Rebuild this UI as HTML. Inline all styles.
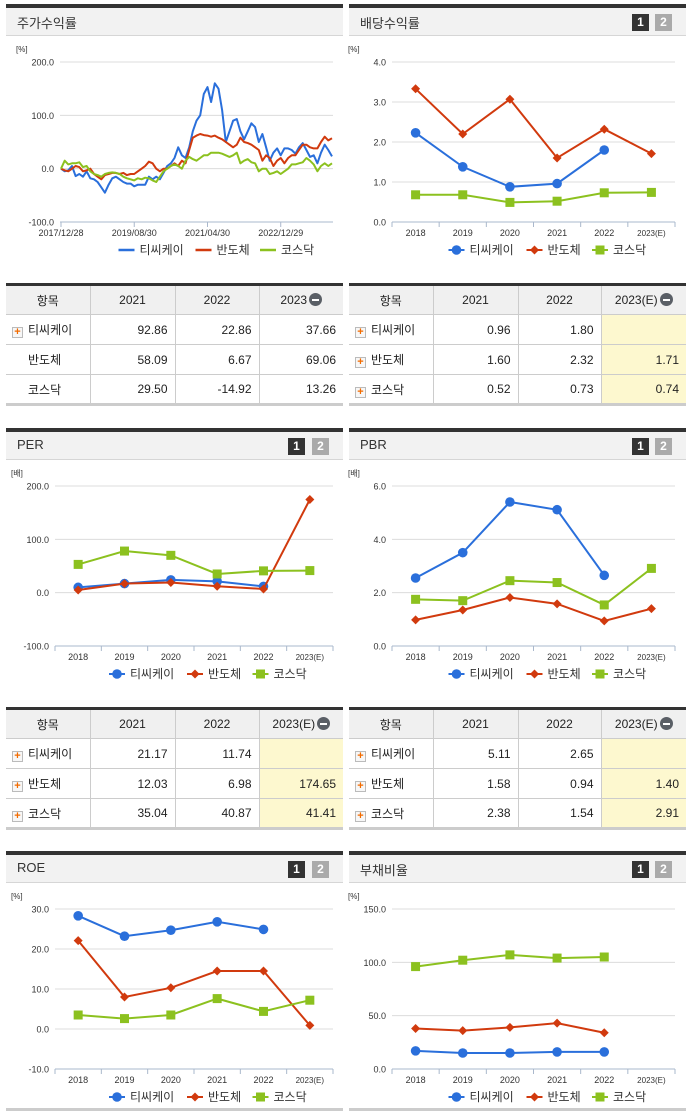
<!DOCTYPE html>
<html><head><meta charset="utf-8">
<style>
*{box-sizing:border-box;margin:0;padding:0}
body{width:691px;height:1115px;background:#fff;position:relative;overflow:hidden;font-family:"Liberation Sans","Noto Sans CJK KR",sans-serif;color:#222}
.hdr{position:absolute;height:32px;background:#f2f2f2;border-top:4px solid #333;border-bottom:1px solid #d6d6d6}
.hdr .t{position:absolute;left:11px;top:5px;font-size:13px;color:#333}
.b{position:absolute;top:6px;width:17px;height:17px;font:bold 12px "Liberation Sans",sans-serif;color:#fff;text-align:center;line-height:17px}
.b1{background:#333}.b2{background:#aaa}
svg{position:absolute;left:0;top:0}
table{position:absolute;border-collapse:collapse;font-size:12px;table-layout:fixed;border-top:3px solid #333;border-bottom:3px solid #ccc}
td,th{border:1px solid #ccc;height:30px;font-weight:normal}
table tr td:first-child,table tr th:first-child{border-left:none}
table tr td:last-child,table tr th:last-child{border-right:none}
th{background:#f0f0f0;height:30px;text-align:center}
td{text-align:right;padding-right:7px}
td.l{text-align:left;padding-left:6px}
td.y{background:#fdf8cf}
.pl{display:inline-block;width:11px;height:11px;border:1px solid #bbb;background:#f7f7f7;color:#f26b00;font-size:11px;line-height:9px;text-align:center;font-weight:bold;vertical-align:-1px;margin-right:5px}
.sp{display:inline-block;width:16px}
.mn{display:inline-block;width:13px;height:13px;border-radius:50%;background:#5a5f66;vertical-align:-2px;position:relative;margin-left:2px}
.mn:after{content:"";position:absolute;left:3px;top:6px;width:7px;height:2px;background:#fff}
</style></head><body>
<div class="hdr" style="left:6px;top:4px;width:337px"><span class="t">주가수익률</span></div>
<div class="hdr" style="left:349px;top:4px;width:337px"><span class="t">배당수익률</span><span class="b b1" style="left:283px">1</span><span class="b b2" style="left:306px">2</span></div>
<div class="hdr" style="left:6px;top:428px;width:337px"><span class="t">PER</span><span class="b b1" style="left:282px">1</span><span class="b b2" style="left:306px">2</span></div>
<div class="hdr" style="left:349px;top:428px;width:337px"><span class="t">PBR</span><span class="b b1" style="left:283px">1</span><span class="b b2" style="left:306px">2</span></div>
<div class="hdr" style="left:6px;top:851px;width:337px"><span class="t">ROE</span><span class="b b1" style="left:282px">1</span><span class="b b2" style="left:306px">2</span></div>
<div class="hdr" style="left:349px;top:851px;width:337px"><span class="t">부채비율</span><span class="b b1" style="left:283px">1</span><span class="b b2" style="left:306px">2</span></div>

<table style="left:6px;top:283px;width:337px">
<colgroup><col style="width:84px"><col style="width:85px"><col style="width:84px"><col style="width:84px"></colgroup>
<tr><th>항목</th><th>2021</th><th>2022</th><th>2023<span class="mn"></span></th></tr>
<tr><td class="l"><span class="pl">+</span>티씨케이</td><td>92.86</td><td>22.86</td><td>37.66</td></tr>
<tr><td class="l"><span class="sp"></span>반도체</td><td>58.09</td><td>6.67</td><td>69.06</td></tr>
<tr><td class="l"><span class="sp"></span>코스닥</td><td>29.50</td><td>-14.92</td><td>13.26</td></tr>
</table>
<table style="left:349px;top:283px;width:337px">
<colgroup><col style="width:84px"><col style="width:85px"><col style="width:83px"><col style="width:85px"></colgroup>
<tr><th>항목</th><th>2021</th><th>2022</th><th>2023(E)<span class="mn"></span></th></tr>
<tr><td class="l"><span class="pl">+</span>티씨케이</td><td>0.96</td><td>1.80</td><td class="y"></td></tr>
<tr><td class="l"><span class="pl">+</span>반도체</td><td>1.60</td><td>2.32</td><td class="y">1.71</td></tr>
<tr><td class="l"><span class="pl">+</span>코스닥</td><td>0.52</td><td>0.73</td><td class="y">0.74</td></tr>
</table>
<table style="left:6px;top:707px;width:337px">
<colgroup><col style="width:84px"><col style="width:85px"><col style="width:84px"><col style="width:84px"></colgroup>
<tr><th>항목</th><th>2021</th><th>2022</th><th>2023(E)<span class="mn"></span></th></tr>
<tr><td class="l"><span class="pl">+</span>티씨케이</td><td>21.17</td><td>11.74</td><td class="y"></td></tr>
<tr><td class="l"><span class="pl">+</span>반도체</td><td>12.03</td><td>6.98</td><td class="y">174.65</td></tr>
<tr><td class="l"><span class="pl">+</span>코스닥</td><td>35.04</td><td>40.87</td><td class="y">41.41</td></tr>
</table>
<table style="left:349px;top:707px;width:337px">
<colgroup><col style="width:84px"><col style="width:85px"><col style="width:83px"><col style="width:85px"></colgroup>
<tr><th>항목</th><th>2021</th><th>2022</th><th>2023(E)<span class="mn"></span></th></tr>
<tr><td class="l"><span class="pl">+</span>티씨케이</td><td>5.11</td><td>2.65</td><td class="y"></td></tr>
<tr><td class="l"><span class="pl">+</span>반도체</td><td>1.58</td><td>0.94</td><td class="y">1.40</td></tr>
<tr><td class="l"><span class="pl">+</span>코스닥</td><td>2.38</td><td>1.54</td><td class="y">2.91</td></tr>
</table>
<div style="position:absolute;left:6px;top:1108px;width:337px;height:3px;background:#ccc"></div>
<div style="position:absolute;left:349px;top:1108px;width:337px;height:3px;background:#ccc"></div>

<svg id="s" width="691" height="1115"></svg>
<script>
const years=["2018","2019","2020","2021","2022","2023(E)"];
const stockDates=["2017/12/28","2019/08/30","2021/04/30","2022/12/29"];
const stockTick=[0,20,40,60];
const stockTcK=[0,-5,-3,5,-14,-10,-15,-5,-18,-20,-25,-35,-45,-30,-18,-15,-20,-25,-28,-28,-33,-30,-30,-30,-15,-20,-15,-20,-8,5,10,20,40,25,20,40,70,90,100,140,153,125,160,150,110,50,70,90,93,70,55,70,85,78,50,65,40,15,30,38,25,38,38,35,28,40,48,35,22,25,10,30,45,35,23];
const stockSemi=[0,-3,-5,0,5,3,-5,-3,0,-10,-15,-20,-12,-10,-8,-8,-10,-8,-12,-10,-10,-5,0,5,13,10,0,-5,0,0,5,10,5,15,10,35,58,62,65,63,62,60,62,58,55,50,45,40,45,58,50,48,45,40,35,15,25,20,5,15,20,10,20,25,25,35,45,45,40,38,38,50,60,53,57];
const stockKosdaq=[0,15,8,10,10,12,3,5,-5,-10,-12,-15,-10,-8,-7,-8,-10,-15,-18,-20,-22,-18,-20,-17,-18,-22,-25,-15,-5,0,5,8,5,0,15,22,18,15,20,25,25,30,30,30,28,25,22,25,30,10,15,18,12,10,-5,0,0,-10,-8,-5,-10,-5,0,8,8,10,12,20,15,8,-5,5,10,5,10];
const divTcK=[2.23,1.38,0.88,0.96,1.80,null];
const divSemi=[3.33,2.20,3.07,1.60,2.32,1.71];
const divKosdaq=[0.68,0.68,0.49,0.52,0.73,0.74];
const perTcK=[10,17,24,21.17,11.74,null];
const perSemi=[5,17,19,12.03,6.98,174.65];
const perKosdaq=[53,78,70,35.04,40.87,41.41];
const pbrTcK=[2.55,3.5,5.4,5.11,2.65,null];
const pbrSemi=[0.98,1.35,1.82,1.58,0.94,1.40];
const pbrKosdaq=[1.75,1.7,2.45,2.38,1.54,2.91];
const roeTcK=[28.3,23.2,24.7,26.8,24.9,null];
const roeSemi=[22.1,8,10.3,14.5,14.5,0.9];
const roeKosdaq=[3.5,2.6,3.5,7.6,4.4,7.2];
const debtTcK=[17,15,15,16,16,null];
const debtSemi=[38,36,39,43,34,null];
const debtKosdaq=[96,102,107,104,105,null];
const tick4=[0,1,2,3,4];const tick200=[-100,0,100,200];const tick6=[0,2,4,6];const tick30=[-10,0,10,20,30];const tick150=[0,50,100,150];

const S=document.getElementById('s');const NS="http://www.w3.org/2000/svg";
const BLUE="#2a6fdb",RED="#d13a0e",GREEN="#8cc11f";
function el(t,a,p){const e=document.createElementNS(NS,t);for(const k in a)e.setAttribute(k,a[k]);(p||S).appendChild(e);return e;}
function txt(x,y,s,sz,anc,col){const e=el('text',{x:x,y:y,'font-size':sz,'text-anchor':anc||'start',fill:col||'#333','font-family':'"Liberation Sans","Noto Sans CJK KR",sans-serif'});e.textContent=s;return e;}
function marker(k,x,y,col){
 if(k==0)return el('circle',{cx:x,cy:y,r:4.8,fill:col});
 if(k==1)return el('path',{d:`M${x},${y-4.5}L${x+4.5},${y}L${x},${y+4.5}L${x-4.5},${y}Z`,fill:col});
 return el('rect',{x:x-4.5,y:y-4.5,width:9,height:9,fill:col});
}
function frame(T,L,R,ticks,yMin,yMax,unit){
 const top=T+58,bot=T+218;
 const ys=v=>bot-(v-yMin)/(yMax-yMin)*(bot-top);
 txt(L-44,T+48,unit,8,'start','#333');
 ticks.forEach(v=>{if(v!==yMin)el('line',{x1:L,x2:R,y1:ys(v),y2:ys(v),stroke:'#dcdcdc','stroke-width':1});
  txt(L-6,ys(v)+3.5,v.toFixed(1),9,'end','#333');});
 el('line',{x1:L,x2:R,y1:bot,y2:bot,stroke:'#aab8cc','stroke-width':1});
 return ys;
}
function legend(cx,y){
 const items=[["티씨케이",BLUE],["반도체",RED],["코스닥",GREEN]];
 let x=cx-83;
 items.forEach(it=>{const g=el('g',{});
  
  
  el('line',{x1:x,x2:x+16,y1:y-4,y2:y-4,stroke:it[1],'stroke-width':2.5},g);
  g.appendChild(txt(x+21,y,it[0],12,'start','#333'));
  x+=21+it[0].length*12.5+6;});
}
function legendM(cx,y){
 const items=[["티씨케이",BLUE,0],["반도체",RED,1],["코스닥",GREEN,2]];
 let x=cx-85;
 items.forEach(it=>{
  el('line',{x1:x,x2:x+16,y1:y-4,y2:y-4,stroke:it[1],'stroke-width':2});
  const m=marker(it[2],x+8,y-4,it[1]);
  
  
  const t=txt(x+21,y,it[0],12,'start','#333');
  
  
  x+=21+it[0].length*12.5+7;});
}
function catChart(T,L,R,ticks,series,unit){
 const yMin=ticks[0],yMax=ticks[ticks.length-1];
 const ys=frame(T,L,R,ticks,yMin,yMax,unit);
 const bw=(R-L)/years.length;const xs=i=>L+bw*(i+0.5);const bot=T+218;
 for(let i=0;i<=years.length;i++)el('line',{x1:L+bw*i,x2:L+bw*i,y1:bot,y2:bot+5,stroke:'#aab8cc'});
 years.forEach((y,i)=>txt(xs(i),T+232,y,i==5?8:9,'middle','#333'));
 const cols=[BLUE,RED,GREEN];
 series.forEach((arr,k)=>{let d='';let pen=false;
  arr.forEach((v,i)=>{if(v==null){pen=false;return;}d+=(pen?'L':'M')+xs(i)+','+ys(v);pen=true;});
  const p=el('path',{d:d,fill:'none',stroke:cols[k],'stroke-width':2});
  
  
  arr.forEach((v,i)=>{if(v==null)return;const m=marker(k,xs(i),ys(v),cols[k]);
   
   });
 });
 legendM((L+R)/2,T+250);
}
(function(){const T=4,L=60,R=333;
 const ys=frame(T,L,R,tick200,-100,200,'[%]');
 const n=stockTcK.length;const xs=i=>L+1+i*(R-L-2)/(n-1);
 stockTick.forEach((m,j)=>{el('line',{x1:xs(m),x2:xs(m),y1:T+218,y2:T+223,stroke:'#aab8cc'});txt(xs(m),T+232,stockDates[j],9,'middle','#333');});
 [[stockTcK,BLUE],[stockSemi,RED],[stockKosdaq,GREEN]].forEach(([a,c])=>{
  const d=a.map((v,i)=>(i?'L':'M')+xs(i).toFixed(1)+','+ys(v).toFixed(1)).join('');
  const p=el('path',{d:d,fill:'none',stroke:c,'stroke-width':2,'stroke-linejoin':'round'});
  
  });
 legend((L+R)/2+5,T+250);
})();
catChart(4,392,675,tick4,[divTcK,divSemi,divKosdaq],'[%]');
catChart(428,55,333,tick200,[perTcK,perSemi,perKosdaq],'[배]');
catChart(428,392,675,tick6,[pbrTcK,pbrSemi,pbrKosdaq],'[배]');
catChart(851,55,333,tick30,[roeTcK,roeSemi,roeKosdaq],'[%]');
catChart(851,392,675,tick150,[debtTcK,debtSemi,debtKosdaq],'[%]');
</script>
</body></html>
